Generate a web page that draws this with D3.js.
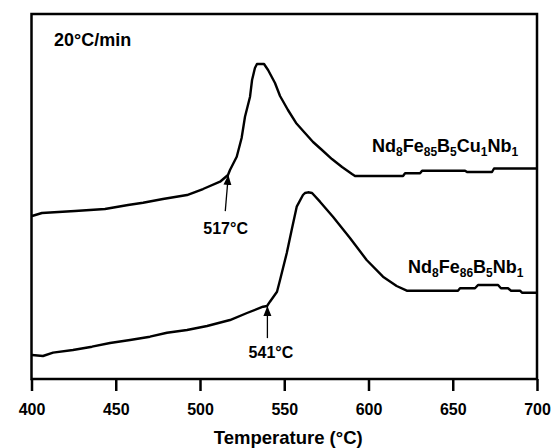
<!DOCTYPE html>
<meta charset="utf-8">
<title>DSC curves Nd-Fe-B</title>
<style>
  body { margin: 0; background-color: white; }
  text { font-family: "Liberation Sans", Arial, sans-serif; font-weight: bold; fill: #000; }
  .curve { fill: none; stroke: #000; stroke-width: 2.4px; stroke-linejoin: round; }
</style>
<svg width="555" height="448"></svg>
<script src="https://d3js.org/d3.v7.min.js"></script>
<script>
// temperatures (°C) and heat flow (arb. units)
var cuTemp = [400.3, 406.2, 425.8, 443.6, 457.3, 466.2, 478.0, 492.3, 501.8, 511.9, 516.6, 517.8,
              521.8, 524.7, 526.7, 529.7, 530.9, 532.6, 533.8, 538.0, 540.4, 544.5, 547.5, 552.2,
              557.0, 562.3, 567.1, 572.4, 578.3, 584.3, 590.2, 592.0, 620.5, 621.7, 630.6, 631.8,
              657.3, 658.5, 673.3, 674.5, 700];
var cuFlow = [44.66, 45.48, 46.03, 46.58, 47.67, 48.30, 49.32, 50.41, 52.05, 54.05, 55.89, 57.26,
              60.90, 66.03, 71.86, 77.34, 81.92, 85.21, 86.30, 86.30, 84.66, 81.10, 77.53, 73.70,
              70.14, 67.40, 64.93, 62.74, 60.27, 58.08, 56.16, 55.62, 55.62, 56.36, 56.36, 57.07,
              57.07, 56.71, 56.71, 57.67, 57.67];

var nbTemp = [400.3, 406.8, 412.8, 424.6, 435.9, 446.6, 458.5, 470.3, 480.4, 492.3, 504.2, 517.8,
              527.9, 537.4, 539.8, 541.5, 545.7, 547.5, 551.5, 554.4, 557.4, 561.1, 562.3, 564.1,
              566.5, 571.2, 578.9, 589.0, 598.9, 608.6, 616.7, 622.7, 653.1, 654.3, 663.2, 665.0,
              676.9, 678.6, 682.8, 684.6, 689.9, 691.1, 700];
var nbFlow = [6.58, 6.30, 7.21, 7.95, 8.85, 9.86, 10.68, 11.59, 12.68, 13.42, 14.52, 16.16,
              18.08, 19.81, 20.00, 21.18, 23.92, 27.12, 34.52, 40.82, 47.21, 50.41, 50.96, 51.15,
              50.96, 48.58, 44.47, 38.63, 32.60, 28.03, 25.48, 24.19, 24.19, 24.85, 24.85, 25.75,
              25.75, 24.85, 24.85, 24.19, 24.19, 23.64, 23.64];

var xTicks = [400, 450, 500, 550, 600, 650, 700];

// onset markers: label, arrow tip (T, flow), arrow tail (T, flow), label anchor (T, flow)
var onsetLabels = ["517°C", "541°C"];
var onsetTip = [[516.8, 55.9], [540.0, 20.0]];
var onsetTail = [[515.0, 46.0], [540.0, 11.2]];
var onsetText = [[515.2, 39.7], [542.1, 5.75]];

var svg = d3.select("svg");

var x = d3.scaleLinear().domain([400, 700]).range([31.5, 537]);
var y = d3.scaleLinear().domain([0, 100]).range([379, 14]);

// frame
svg.append("rect")
    .attr("x", x(400)).attr("y", y(100))
    .attr("width", x(700) - x(400)).attr("height", y(0) - y(100))
    .attr("fill", "none").attr("stroke", "#000").attr("stroke-width", 2.5);

var xAxis = svg.append("g")
    .attr("transform", "translate(0," + y(0) + ")")
    .call(d3.axisBottom(x).tickValues(xTicks).tickSize(12).tickPadding(13).tickFormat(d3.format("d")));
xAxis.select(".domain").remove();
xAxis.selectAll(".tick line").attr("stroke", "#000").attr("stroke-width", 2.5);
xAxis.selectAll(".tick text").attr("font-size", 16).attr("font-family", null).attr("fill", "#000");

svg.append("text")
    .attr("x", (x(400) + x(700)) / 2 + 4)
    .attr("y", 444)
    .attr("text-anchor", "middle")
    .attr("font-size", 18.5)
    .text("Temperature (°C)");

var line = d3.line()
    .x(function(d) { return x(d[0]); })
    .y(function(d) { return y(d[1]); });

svg.append("path").attr("class", "curve").attr("d", line(d3.zip(cuTemp, cuFlow)));
svg.append("path").attr("class", "curve").attr("d", line(d3.zip(nbTemp, nbFlow)));

// arrows
svg.append("defs").append("marker")
    .attr("id", "head")
    .attr("viewBox", "0 0 10 10")
    .attr("refX", 10).attr("refY", 5)
    .attr("markerWidth", 10).attr("markerHeight", 10)
    .attr("markerUnits", "userSpaceOnUse")
    .attr("orient", "auto")
  .append("path")
    .attr("d", "M0,1 L10,5 L0,9 Z")
    .attr("fill", "#000");

onsetLabels.forEach(function(lab, i) {
  svg.append("line")
      .attr("x1", x(onsetTail[i][0])).attr("y1", y(onsetTail[i][1]))
      .attr("x2", x(onsetTip[i][0])).attr("y2", y(onsetTip[i][1]))
      .attr("stroke", "#000").attr("stroke-width", 1.3)
      .attr("marker-end", "url(#head)");
  svg.append("text")
      .attr("x", x(onsetText[i][0]))
      .attr("y", y(onsetText[i][1]))
      .attr("text-anchor", "middle")
      .attr("font-size", 16)
      .text(lab);
});

svg.append("text")
    .attr("x", 54).attr("y", 46)
    .attr("font-size", 18)
    .text("20°C/min");

// sample labels with subscripts
function formula(xp, yp, parts) {
  var t = svg.append("text").attr("x", xp).attr("y", yp).attr("font-size", 18);
  parts.forEach(function(p, i) {
    t.append("tspan").attr("dy", i === 0 ? 0 : -4).text(p[0]);
    t.append("tspan").attr("font-size", 12).attr("dy", 4).text(p[1]);
  });
}
formula(372, 152, [["Nd", "8"], ["Fe", "85"], ["B", "5"], ["Cu", "1"], ["Nb", "1"]]);
formula(408, 273, [["Nd", "8"], ["Fe", "86"], ["B", "5"], ["Nb", "1"]]);
</script>
